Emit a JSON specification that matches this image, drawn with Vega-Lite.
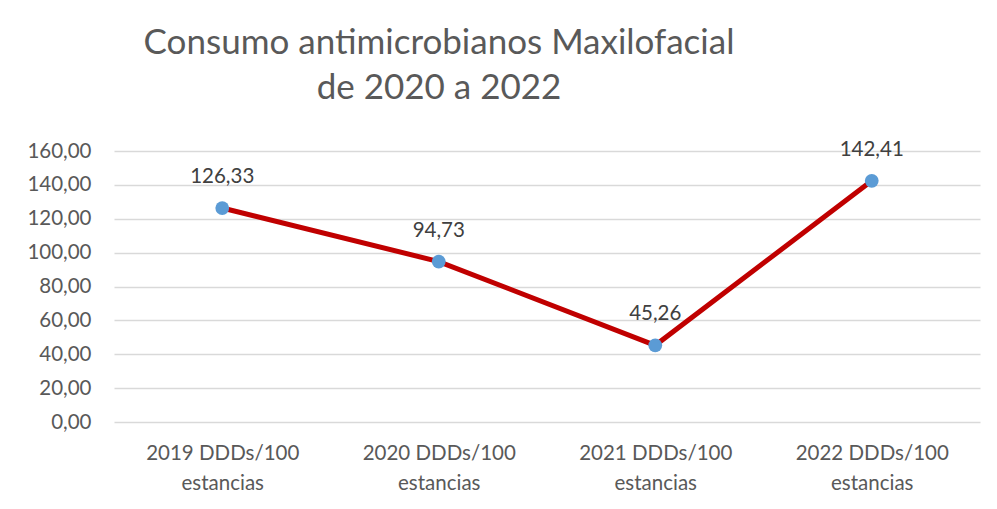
{
  "$schema": "https://vega.github.io/schema/vega-lite/v6.json",
  "width": 866,
  "height": 271,
  "autosize": {"type": "none"},
  "padding": {"left": 114, "top": 151, "right": 17, "bottom": 87},
  "background": "white",
  "config": {
    "locale": {"number": {"decimal": ",", "thousands": ".", "grouping": [3], "currency": ["", " €"]}},
    "view": {"stroke": null},
    "font": "Lato"
  },
  "title": {
    "text": ["Consumo antimicrobianos Maxilofacial", "de 2020 a 2022"],
    "anchor": "middle",
    "dx": -108,
    "fontSize": 35,
    "fontWeight": "normal",
    "color": "#595959",
    "font": "Lato",
    "lineHeight": 45,
    "offset": 34
  },
  "data": {
    "values": [
      {"cat": "2019 DDDs/100 estancias", "v": 126.33},
      {"cat": "2020 DDDs/100 estancias", "v": 94.73},
      {"cat": "2021 DDDs/100 estancias", "v": 45.26},
      {"cat": "2022 DDDs/100 estancias", "v": 142.41}
    ]
  },
  "encoding": {
    "x": {
      "field": "cat", "type": "nominal", "sort": null, "title": null,
      "scale": {"paddingInner": 0, "paddingOuter": 0},
      "axis": {
        "labelAngle": 0, "domain": false, "ticks": false,
        "labelExpr": "[replace(datum.value, ' estancias', ''), 'estancias']",
        "labelFontSize": 20.5, "labelColor": "#595959", "labelLineHeight": 30,
        "labelPadding": 21, "labelFont": "Lato"
      }
    },
    "y": {
      "field": "v", "type": "quantitative", "title": null,
      "scale": {"domain": [0, 160], "nice": false},
      "axis": {
        "values": [0, 20, 40, 60, 80, 100, 120, 140, 160],
        "format": ".2f", "domain": false, "ticks": false,
        "labelFontSize": 20.5, "labelColor": "#595959", "labelPadding": 23,
        "gridColor": "#d9d9d9", "gridWidth": 1.5, "labelFont": "Lato"
      }
    }
  },
  "layer": [
    {"mark": {"type": "line", "color": "#c00000", "strokeWidth": 5}},
    {"mark": {"type": "point", "filled": true, "opacity": 1, "color": "#5b9bd5", "size": 190}},
    {
      "mark": {"type": "text", "dy": -31, "fontSize": 20.5, "color": "#404040", "font": "Lato"},
      "encoding": {"text": {"field": "v", "type": "quantitative", "format": ".2f"}}
    }
  ]
}
